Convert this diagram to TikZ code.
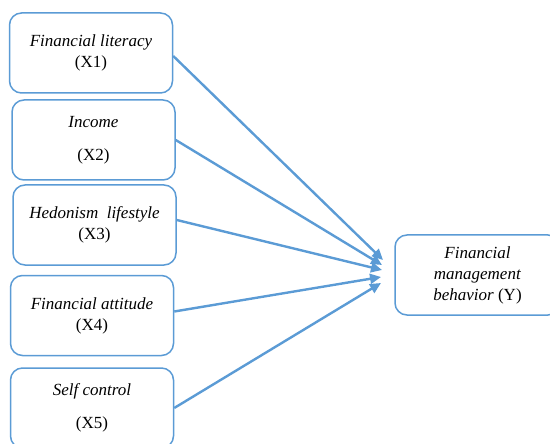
\documentclass[tikz,border=0pt]{standalone}
\usepackage{fontspec}
\setmainfont{Liberation Serif}
\usetikzlibrary{arrows.meta,calc,positioning}
\definecolor{wordblue}{RGB}{91,155,213}

\begin{document}
\begin{tikzpicture}[x=1pt, y=-1pt,
      varbox/.style={draw=wordblue, line width=1.5pt, rounded corners=12pt, minimum width=163pt, minimum height=80pt, align=center, inner sep=4pt, font=\fontsize{17}{21}\selectfont},
      path/.style={draw=wordblue, line width=2.4pt, -{Triangle[length=11pt,width=10pt]}}
    ]
      \clip (0,0) rectangle (550,444);

      % Independent variables
      \node[varbox] (x1) at (91,53) {\textit{Financial literacy}\\(X1)};
      \node[varbox] (x2) at (93.5,140) {\textit{Income}\\[12pt](X2)};
      \node[varbox] (x3) at (94.5,225) {\textit{Hedonism\ \ lifestyle}\\(X3)};
      \node[varbox] (x4) at (92,315.5) {\textit{Financial attitude}\\(X4)};
      \node[varbox] (x5) at (92,408) {\textit{Self control}\\[12pt](X5)};

      % Dependent variable
      \node[varbox, minimum width=165pt] (y) at (477.5,275) {\textit{Financial}\\\textit{management}\\\textit{behavior} (Y)};

      % Arrow tips in front of Y
      \coordinate (t1) at (383,260);
      \coordinate (t2) at (382,265);
      \coordinate (t3) at (382,270);
      \coordinate (t4) at (381,277);
      \coordinate (t5) at (381,283);

      % Paths
      \draw[path] ([yshift=-3pt]x1.east) -- (t1);
      \draw[path] (x2.east) -- (t2);
      \draw[path] ([yshift=5pt]x3.east) -- (t3);
      \draw[path] ([yshift=4pt]x4.east) -- (t4);
      \draw[path] (x5.east) -- (t5);
    \end{tikzpicture}
\end{document}
